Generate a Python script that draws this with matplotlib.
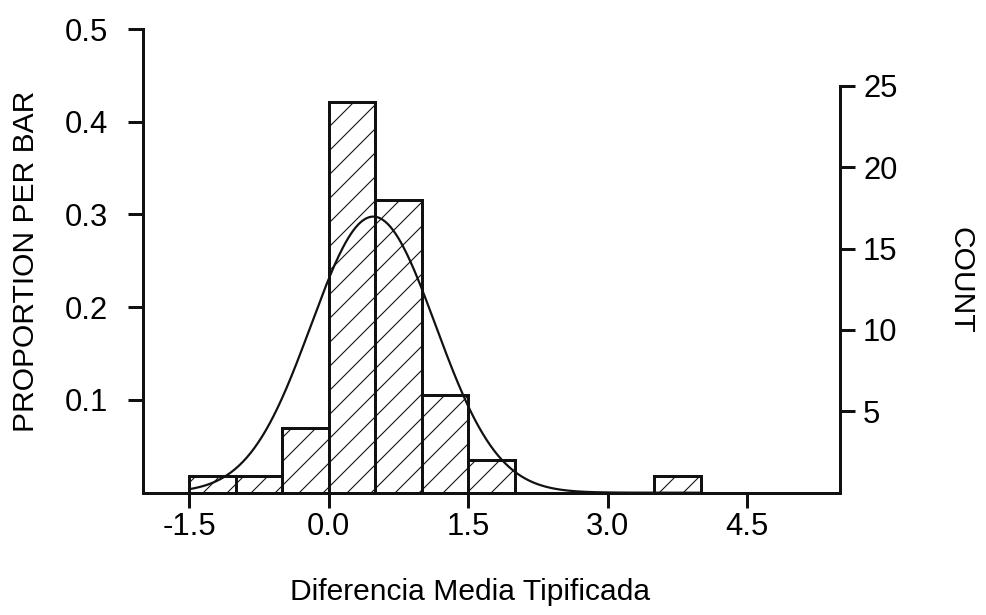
import numpy as np
import matplotlib
matplotlib.use("Agg")
import matplotlib.pyplot as plt

# histogram data (bins of width 0.5, left edges)
bin_left = [-1.5, -1.0, -0.5, 0.0, 0.5, 1.0, 1.5, 3.5]
counts = [1, 1, 4, 24, 18, 6, 2, 1]
bin_width = 0.5

# fitted normal curve parameters
curve_mean = 0.48
curve_sd = 0.67

x_ticks = [-1.5, 0.0, 1.5, 3.0, 4.5]
x_labels = ["-1.5", "0.0", "1.5", "3.0", "4.5"]
prop_ticks = [0.1, 0.2, 0.3, 0.4, 0.5]
count_ticks = [5, 10, 15, 20, 25]

plt.rcParams["font.family"] = ["Liberation Sans", "DejaVu Sans"]
plt.rcParams["hatch.linewidth"] = 1.1
plt.rcParams["hatch.color"] = "#333333"

n_total = sum(counts)
props = np.array(counts) / n_total

fig = plt.figure(figsize=(986 / 72, 615 / 72), dpi=72)
ax = fig.add_axes([0.1447, 0.1989, 0.852 - 0.1447, 0.9528 - 0.1989])

ax.bar(bin_left, props, width=bin_width, align="edge", facecolor="white",
       edgecolor="#111111", hatch="/", linewidth=3, zorder=2)

xs = np.linspace(-1.5, 4.0, 400)
ys = bin_width * np.exp(-0.5 * ((xs - curve_mean) / curve_sd) ** 2) / (curve_sd * np.sqrt(2 * np.pi))
ax.plot(xs, ys, color="#111111", linewidth=2.2, zorder=3)

ax.set_xlim(-2.0, 5.5)
ax.set_ylim(0, 0.5)
ax.set_xticks(x_ticks)
ax.set_xticklabels(x_labels)
ax.set_yticks(prop_ticks)
ax.set_yticklabels([f"{v:.1f}" for v in prop_ticks])

for side in ["top", "right"]:
    ax.spines[side].set_visible(False)
for side in ["left", "bottom"]:
    ax.spines[side].set_linewidth(3)
    ax.spines[side].set_color("#111111")

ax.tick_params(axis="both", direction="out", length=15, width=3,
               labelsize=31, pad=20, color="#111111")
ax.tick_params(axis="x", pad=4)
ax.set_ylabel("PROPORTION PER BAR", fontsize=30, va="center")
ax.yaxis.set_label_coords(-0.167, 0.5)
ax.set_xlabel("Diferencia Media Tipificada", fontsize=30, va="center")
ax.xaxis.set_label_coords(0.47, -0.214)

ax2 = ax.twinx()
ax2.set_ylim(0, 0.5 * n_total)
ax2.set_yticks(count_ticks)
for side in ["top", "left", "bottom"]:
    ax2.spines[side].set_visible(False)
ax2.spines["right"].set_bounds(0, 25)
ax2.spines["right"].set_linewidth(3)
ax2.spines["right"].set_color("#111111")
ax2.tick_params(axis="y", direction="out", length=15, width=3,
                labelsize=31, pad=8, color="#111111")
ax2.set_ylabel("COUNT", fontsize=30, rotation=-90, va="center")
ax2.yaxis.set_label_coords(1.172, 0.457)

fig.savefig("out.png", dpi=72, facecolor="white")
